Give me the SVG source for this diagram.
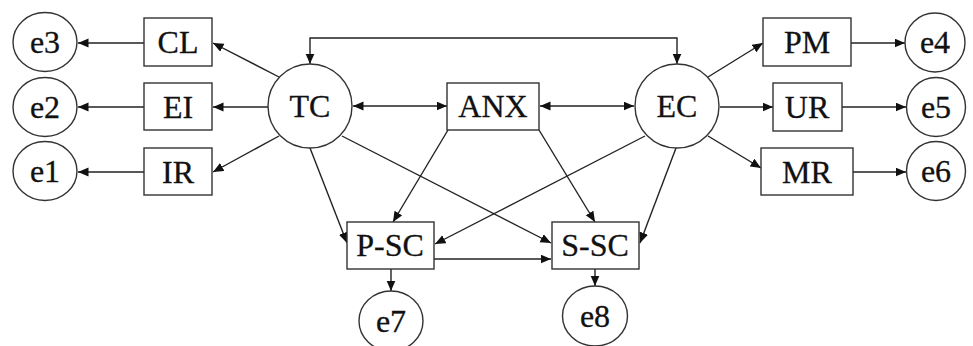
<svg xmlns="http://www.w3.org/2000/svg" width="973" height="346" viewBox="0 0 973 346">
  <style>
    .shape { fill: #fff; stroke: #333; stroke-width: 1.4; }
    .lbl { font-family: "Liberation Serif", "Times New Roman", serif; font-size: 32px; fill: #111; text-anchor: middle; stroke: #111; stroke-width: 0.3; }
    .edge { fill: none; stroke: #222; stroke-width: 1.4; marker-end: url(#arrow); }
    .both { marker-start: url(#arrow); }
  </style>
  <defs>
    <marker id="arrow" markerUnits="userSpaceOnUse" markerWidth="12" markerHeight="10" refX="10.5" refY="4.5" orient="auto-start-reverse">
      <path d="M0,0 L10.5,4.5 L0,9 z" fill="#111"/>
    </marker>
  </defs>
  <rect width="973" height="346" fill="#fff"/>

  <g id="connectors">
    <!-- covariance across the top -->
    <path class="edge both" d="M310,64 L310,38 L677,38 L677,64"/>
    <!-- TC <-> ANX <-> EC -->
    <line class="edge both" x1="353" y1="106" x2="447" y2="106"/>
    <line class="edge both" x1="540" y1="106" x2="634" y2="106"/>
    <!-- TC indicators -->
    <line class="edge" x1="279" y1="77" x2="213" y2="43"/>
    <line class="edge" x1="268" y1="107" x2="213" y2="107"/>
    <line class="edge" x1="279" y1="136" x2="213" y2="172"/>
    <line class="edge" x1="144" y1="43" x2="78" y2="43"/>
    <line class="edge" x1="144" y1="107" x2="78" y2="107"/>
    <line class="edge" x1="144" y1="172" x2="78" y2="172"/>
    <!-- EC indicators -->
    <line class="edge" x1="708" y1="77" x2="763" y2="43"/>
    <line class="edge" x1="720" y1="107" x2="773" y2="107"/>
    <line class="edge" x1="708" y1="136" x2="761" y2="168"/>
    <line class="edge" x1="851" y1="43" x2="905" y2="43"/>
    <line class="edge" x1="842" y1="107" x2="906" y2="107"/>
    <line class="edge" x1="853" y1="172" x2="906" y2="172"/>
    <!-- paths into P-SC -->
    <line class="edge" x1="310" y1="148" x2="347" y2="243"/>
    <line class="edge" x1="448" y1="130" x2="393" y2="222"/>
    <line class="edge" x1="645" y1="136" x2="435" y2="244"/>
    <!-- paths into S-SC -->
    <line class="edge" x1="342" y1="136" x2="551" y2="243"/>
    <line class="edge" x1="539" y1="130" x2="595" y2="222"/>
    <line class="edge" x1="676" y1="148" x2="640" y2="243"/>
    <!-- P-SC -> S-SC and errors -->
    <line class="edge" x1="434" y1="259" x2="551" y2="259"/>
    <line class="edge" x1="391" y1="269" x2="391" y2="291"/>
    <line class="edge" x1="595" y1="269" x2="595" y2="286"/>
  </g>

  <g id="e3"><ellipse class="shape" cx="45" cy="42" rx="32" ry="29.5"/><text class="lbl" x="45" y="53">e3</text></g>
  <g id="e2"><ellipse class="shape" cx="45" cy="107" rx="32" ry="29.5"/><text class="lbl" x="45" y="118">e2</text></g>
  <g id="e1"><ellipse class="shape" cx="45" cy="171" rx="32" ry="29.5"/><text class="lbl" x="45" y="182">e1</text></g>

  <g id="CL"><rect class="shape" x="144" y="18" width="68" height="48"/><text class="lbl" x="178" y="53">CL</text></g>
  <g id="EI"><rect class="shape" x="144" y="83" width="68" height="47"/><text class="lbl" x="178" y="118">EI</text></g>
  <g id="IR"><rect class="shape" x="144" y="148" width="68" height="47"/><text class="lbl" x="178" y="183">IR</text></g>

  <g id="TC"><circle class="shape" cx="310" cy="106" r="42"/><text class="lbl" x="310" y="117">TC</text></g>
  <g id="ANX"><rect class="shape" x="447" y="83" width="92" height="47"/><text class="lbl" x="493" y="117">ANX</text></g>
  <g id="EC"><circle class="shape" cx="677" cy="106" r="42"/><text class="lbl" x="677" y="117">EC</text></g>

  <g id="PM"><rect class="shape" x="763" y="18" width="88" height="48"/><text class="lbl" x="807" y="53">PM</text></g>
  <g id="UR"><rect class="shape" x="773" y="83" width="69" height="48"/><text class="lbl" x="807" y="118">UR</text></g>
  <g id="MR"><rect class="shape" x="761" y="148" width="92" height="47"/><text class="lbl" x="807" y="183">MR</text></g>

  <g id="e4"><ellipse class="shape" cx="935" cy="42.5" rx="30" ry="29.5"/><text class="lbl" x="935" y="53">e4</text></g>
  <g id="e5"><ellipse class="shape" cx="936" cy="107" rx="29.5" ry="29.5"/><text class="lbl" x="936" y="118">e5</text></g>
  <g id="e6"><ellipse class="shape" cx="936" cy="171" rx="29.5" ry="29.5"/><text class="lbl" x="936" y="182">e6</text></g>

  <g id="P-SC"><rect class="shape" x="347" y="222" width="87" height="47"/><text class="lbl" x="390" y="256">P-SC</text></g>
  <g id="S-SC"><rect class="shape" x="552" y="222" width="87" height="47"/><text class="lbl" x="595" y="256">S-SC</text></g>

  <g id="e7"><ellipse class="shape" cx="391" cy="321" rx="32" ry="30"/><text class="lbl" x="391" y="332">e7</text></g>
  <g id="e8"><ellipse class="shape" cx="595" cy="316" rx="32.5" ry="30"/><text class="lbl" x="595" y="327">e8</text></g>
</svg>
